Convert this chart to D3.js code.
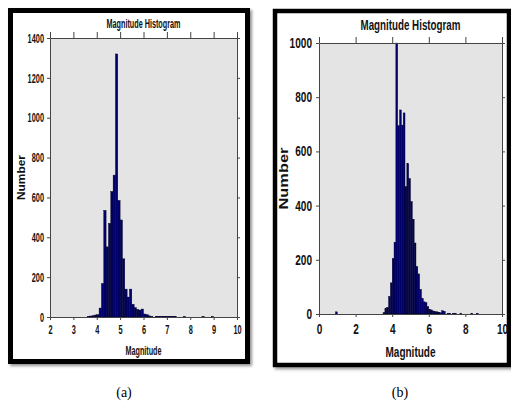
<!DOCTYPE html>
<html>
<head>
<meta charset="utf-8">
<script src="https://cdn.jsdelivr.net/npm/d3@7"></script>
<style>
  html, body { margin: 0; padding: 0; background: #fff; }
  svg { display: block; }
</style>
</head>
<body>
<svg id="chart" width="511" height="407"></svg>
<script>
// Panel (a): bin left edges (width 0.1) and counts
const magA = [3.6, 3.7, 3.8, 3.9, 4.0, 4.1, 4.2, 4.3, 4.4, 4.5, 4.6, 4.7, 4.8, 4.9, 5.0,
  5.1, 5.2, 5.3, 5.4, 5.5, 5.6, 5.7, 5.8, 5.9, 6.0, 6.1, 6.2, 6.3,
  6.5, 6.6, 6.7, 6.8, 6.9, 7.0, 7.1, 7.2, 7.3, 7.7, 8.5, 8.9];
const countA = [4, 5, 7, 10, 12, 45, 168, 535, 352, 470, 630, 712, 1320, 585, 487,
  292, 140, 100, 140, 64, 47, 38, 35, 40, 15, 12, 6, 3,
  4, 4, 4, 4, 4, 4, 4, 4, 4, 3, 3, 3];

// Panel (b)
const magB = [0.9, 3.5, 3.6, 3.7, 3.8, 3.9, 4.0, 4.1, 4.2, 4.3, 4.4, 4.5, 4.6, 4.7, 4.8,
  4.9, 5.0, 5.1, 5.2, 5.3, 5.4, 5.5, 5.6, 5.7, 5.8, 5.9, 6.0, 6.1, 6.2, 6.3,
  6.4, 6.5, 6.6, 6.7, 6.8, 7.0, 7.1, 7.3, 7.4, 7.7, 8.3, 8.6];
const countB = [8, 5, 20, 25, 65, 115, 205, 265, 1000, 695, 753, 697, 742, 470, 555,
  500, 415, 350, 262, 175, 148, 91, 58, 45, 42, 27, 17, 15, 11, 9,
  8, 6, 5, 12, 10, 3, 3, 3, 3, 3, 3, 3];

const xTicksA = [2, 3, 4, 5, 6, 7, 8, 9, 10];
const yTicksA = [0, 200, 400, 600, 800, 1000, 1200, 1400];
const xTicksB = [0, 2, 4, 6, 8, 10];
const yTicksB = [0, 200, 400, 600, 800, 1000];

const binWidth = 0.1;
const svg = d3.select("#chart");

// soft shadow behind the framed boxes
const defs = svg.append("defs");
defs.append("filter").attr("id", "shadow")
  .attr("x", "-5%").attr("y", "-5%").attr("width", "115%").attr("height", "115%")
  .append("feDropShadow")
  .attr("dx", 2).attr("dy", 2).attr("stdDeviation", 1.6)
  .attr("flood-color", "#777").attr("flood-opacity", 0.8);

const NARROW = "'Liberation Sans Narrow', 'Arial Narrow', 'Liberation Sans', sans-serif";

// squeeze text to a given width per character
function fit(sel, perChar) {
  sel.each(function() {
    const t = d3.select(this);
    const n = t.text().length;
    t.attr("textLength", n * perChar).attr("lengthAdjust", "spacingAndGlyphs");
  });
}

function drawPanel(p) {
  const g = svg.append("g");

  g.append("rect")
    .attr("x", p.frame[0]).attr("y", p.frame[1])
    .attr("width", p.frame[2]).attr("height", p.frame[3])
    .attr("fill", "#fff").attr("stroke", "#000")
    .attr("stroke-width", p.frameW)
    .attr("filter", "url(#shadow)");

  const x = d3.scaleLinear().domain(p.xDomain).range([p.left, p.right]);
  const y = d3.scaleLinear().domain(p.yDomain).range([p.bottom, p.top]);

  g.append("rect")
    .attr("x", p.left).attr("y", p.top)
    .attr("width", p.right - p.left).attr("height", p.bottom - p.top)
    .attr("fill", "#e4e4e4");

  // bars
  g.append("g").selectAll("rect")
    .data(p.mags.map((m, i) => ({ m: m, c: p.counts[i] })))
    .enter().append("rect")
    .attr("x", d => x(d.m))
    .attr("width", d => x(d.m + binWidth) - x(d.m))
    .attr("y", d => y(d.c))
    .attr("height", d => y(0) - y(d.c))
    .attr("fill", "#00006a")
    .attr("stroke", "#00001e")
    .attr("stroke-width", 0.4);

  // axes
  const axisStyle = a => {
    a.select(".domain").attr("stroke", "#444");
    a.selectAll(".tick line").attr("stroke", "#444");
  };
  const fmt = d3.format("d");

  const xb = g.append("g").attr("transform", `translate(0,${p.bottom})`)
    .call(d3.axisBottom(x).tickValues(p.xTicks).tickFormat(fmt)
      .tickSize(3).tickSizeOuter(0).tickPadding(p.xPad))
    .call(axisStyle);
  const yl = g.append("g").attr("transform", `translate(${p.left},0)`)
    .call(d3.axisLeft(y).tickValues(p.yTicks).tickFormat(fmt)
      .tickSize(3).tickSizeOuter(0).tickPadding(p.yPad))
    .call(axisStyle);
  g.append("g").attr("transform", `translate(0,${p.top})`)
    .call(d3.axisTop(x).tickValues(p.xTicks).tickSize(6).tickSizeOuter(0).tickFormat(""))
    .call(axisStyle);
  g.append("g").attr("transform", `translate(${p.right},0)`)
    .call(d3.axisRight(y).tickValues(p.yTicks).tickSize(3).tickSizeOuter(0).tickFormat(""))
    .call(axisStyle);

  [xb, yl].forEach(a => a.selectAll("text")
    .attr("font-family", NARROW)
    .attr("font-size", p.tickFont)
    .attr("font-weight", p.tickWeight)
    .attr("fill", "#111"));
  fit(xb.selectAll("text"), p.tickChar);
  fit(yl.selectAll("text"), p.tickChar);

  const cx = (p.left + p.right) / 2;
  const cy = (p.top + p.bottom) / 2;

  g.append("text")
    .attr("x", cx).attr("y", p.titleY)
    .attr("text-anchor", "middle")
    .attr("font-family", NARROW).attr("font-weight", "bold")
    .attr("font-size", p.titleFont).attr("fill", "#111")
    .attr("textLength", p.titleW).attr("lengthAdjust", "spacingAndGlyphs")
    .text("Magnitude Histogram");

  g.append("text")
    .attr("x", cx).attr("y", p.xLabelY)
    .attr("text-anchor", "middle")
    .attr("font-family", NARROW).attr("font-weight", "bold")
    .attr("font-size", p.xLabelFont).attr("fill", "#111")
    .attr("textLength", p.xLabelW).attr("lengthAdjust", "spacingAndGlyphs")
    .text("Magnitude");

  g.append("text")
    .attr("transform", `translate(${p.yLabelX},${cy}) rotate(-90)`)
    .attr("text-anchor", "middle")
    .attr("font-family", "'Liberation Sans', Arial, sans-serif").attr("font-weight", "bold")
    .attr("font-size", p.yLabelFont).attr("fill", "#111")
    .attr("textLength", p.yLabelW).attr("lengthAdjust", "spacingAndGlyphs")
    .text("Number");

  svg.append("text")
    .attr("x", p.capX).attr("y", 397)
    .attr("text-anchor", "middle")
    .attr("font-family", "'Liberation Serif', 'Times New Roman', serif")
    .attr("font-size", 14).attr("fill", "#000")
    .text(p.caption);
}

drawPanel({
  frame: [10.5, 10.5, 237, 351], frameW: 5,
  left: 50, right: 237, top: 38, bottom: 317,
  xDomain: [2, 10], yDomain: [0, 1400],
  xTicks: xTicksA, yTicks: yTicksA,
  mags: magA, counts: countA,
  tickFont: 13, tickWeight: "bold", tickChar: 4.1, xPad: 5, yPad: 3,
  titleY: 28, titleFont: 12.5, titleW: 74,
  xLabelY: 355, xLabelFont: 12.5, xLabelW: 36,
  yLabelX: 25, yLabelFont: 10, yLabelW: 45,
  capX: 124, caption: "(a)"
});

drawPanel({
  frame: [275, 11, 234, 354], frameW: 4.5,
  left: 319, right: 502, top: 43, bottom: 314,
  xDomain: [0, 10], yDomain: [0, 1000],
  xTicks: xTicksB, yTicks: yTicksB,
  mags: magB, counts: countB,
  tickFont: 14, tickWeight: "bold", tickChar: 5.6, xPad: 7, yPad: 4,
  titleY: 30, titleFont: 14, titleW: 100,
  xLabelY: 357, xLabelFont: 14, xLabelW: 50,
  yLabelX: 288, yLabelFont: 13.5, yLabelW: 62,
  capX: 400, caption: "(b)"
});
</script>
</body>
</html>
